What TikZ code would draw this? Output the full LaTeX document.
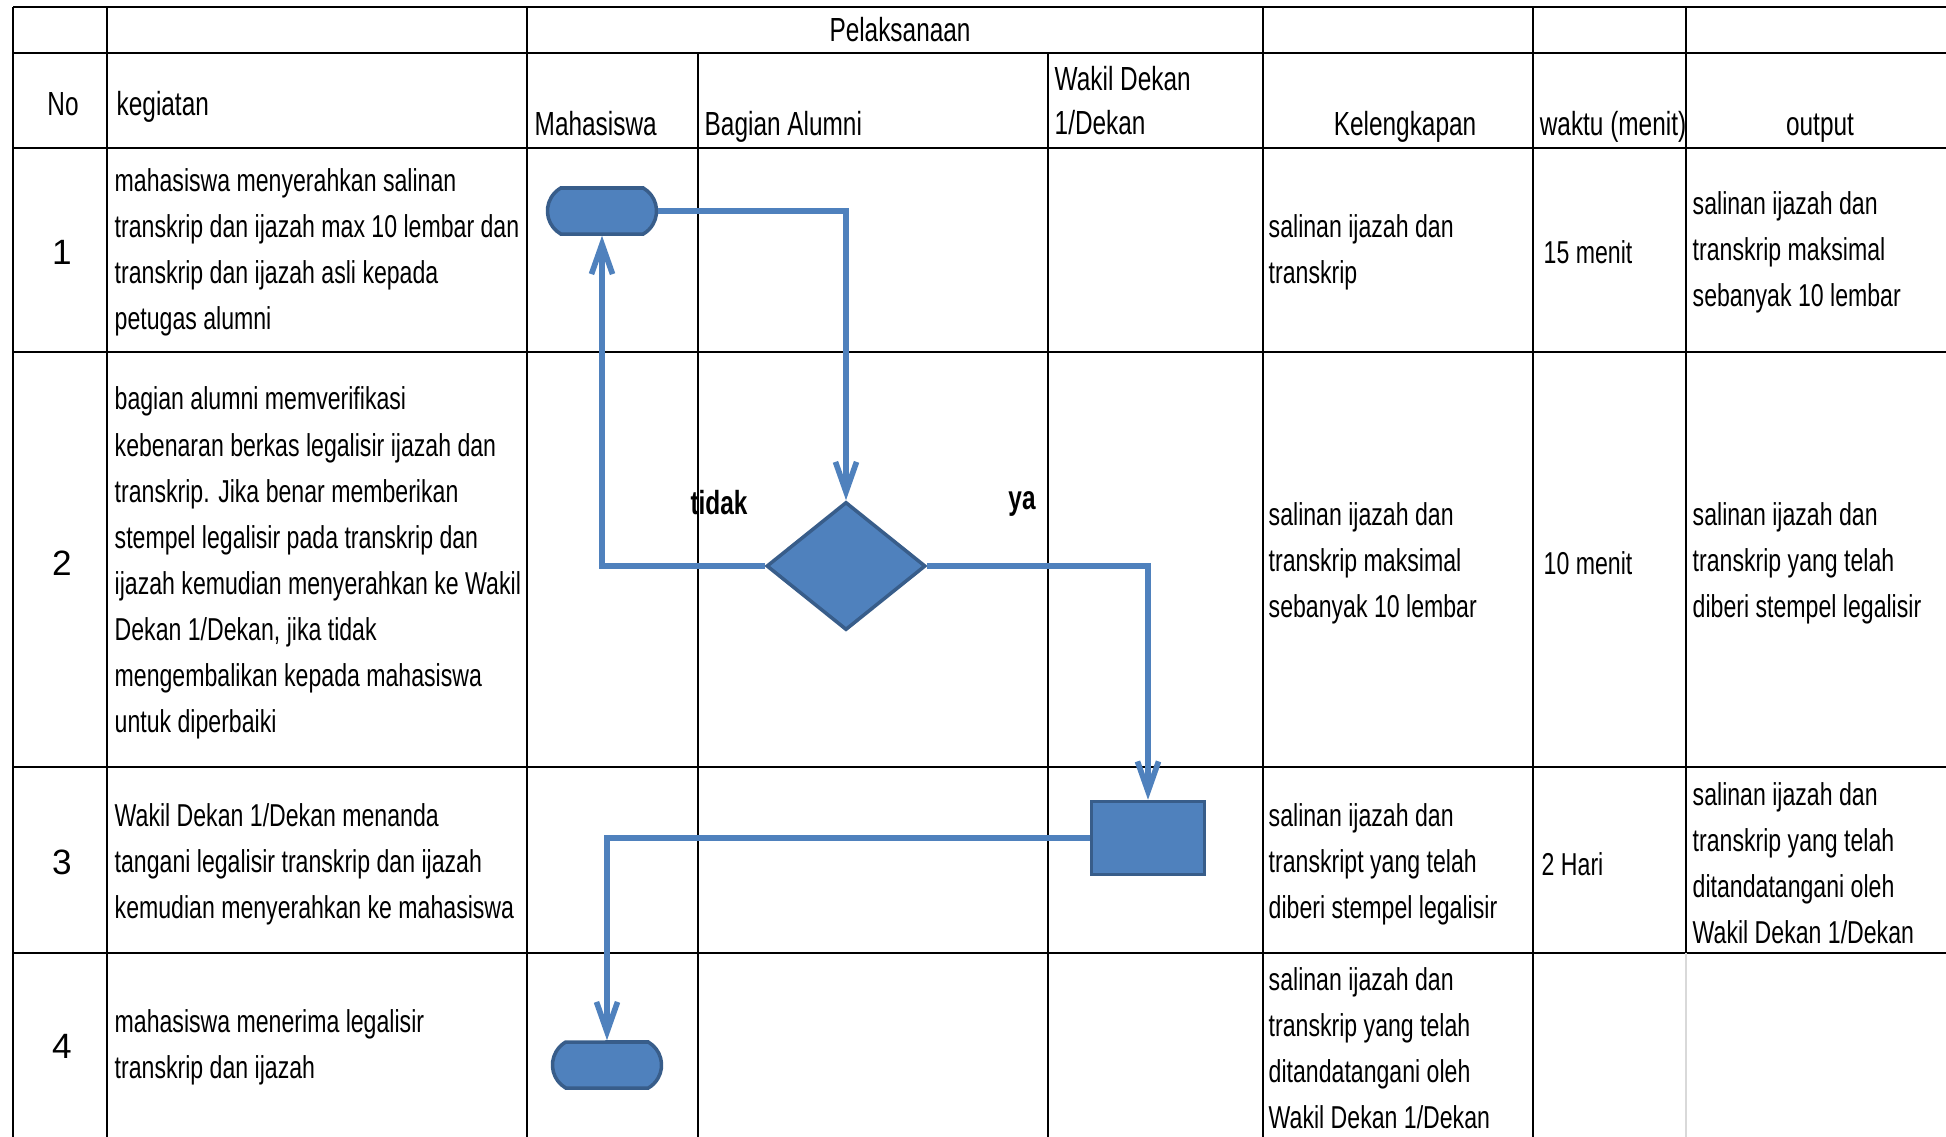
\documentclass[tikz,border=0pt]{standalone}
\usepackage{fontspec}
\setmainfont{Liberation Sans}[FakeStretch = 0.73]
\newfontfamily\numberfont{Liberation Sans}
\usepackage{tikz}
\usetikzlibrary{arrows.meta}
\usetikzlibrary{positioning, shapes.geometric, shapes.misc}
\definecolor{flow blue}{HTML}{4F81BD}
\definecolor{flow edge}{HTML}{385D8A}
\tikzset{
start stop/.style = { rounded rectangle, rounded rectangle arc length = 120, draw = flow edge, fill = flow blue, line width = 1pt, minimum width = 1.09cm, minimum height = 0.46cm, inner sep = 0pt },
decision/.style = { diamond, draw = flow edge, fill = flow blue, line width = 1pt, minimum width = 1.59cm, minimum height = 1.28cm, inner sep = 0pt },
process/.style = { rectangle, draw = flow edge, fill = flow blue, line width = 1pt, minimum width = 1.13cm, minimum height = 0.73cm, inner sep = 0pt },
flow line/.style = { draw = flow blue, line width = 1.6pt, -{Straight Barb[length = 8.5pt, width = 6pt]} },
grid line/.style = { draw = black, line width = 0.7pt },
cell text/.style = { anchor = west, align = left, inner sep = 0pt, font = \fontsize{9pt}{13.1pt}\selectfont },
head text/.style = { inner sep = 0pt, font = \fontsize{9.5pt}{12.5pt}\selectfont },
row number/.style = { inner sep = 0pt, font = \numberfont\fontsize{10pt}{12pt}\selectfont },
branch label/.style = { inner sep = 0pt, font = \bfseries\fontsize{9.5pt}{12pt}\selectfont },
}

\begin{document}
\begin{tikzpicture}[x = 0.01cm, y = -0.01cm]
    \useasboundingbox (0, 0) rectangle (1946, 1136);
    % table
    \path[grid line] (13, 7) -- (1955, 7);
    \path[grid line] (13, 53) -- (1955, 53);
    \path[grid line] (13, 148) -- (1955, 148);
    \path[grid line] (13, 352) -- (1955, 352);
    \path[grid line] (13, 767) -- (1955, 767);
    \path[grid line] (13, 953) -- (1955, 953);
    \path[grid line] (13, 7) -- (13, 1140);
    \path[grid line] (107, 7) -- (107, 1140);
    \path[grid line] (527, 7) -- (527, 1140);
    \path[grid line] (698, 53) -- (698, 1140);
    \path[grid line] (1048, 53) -- (1048, 1140);
    \path[grid line] (1263, 7) -- (1263, 1140);
    \path[grid line] (1533, 7) -- (1533, 1140);
    \path[grid line] (1686, 7) -- (1686, 953);
    \path[draw = black!15, line width = 0.7pt] (1686, 953) -- (1686, 1140);

    \node[head text, anchor = base] (pelaksanaan) at (900, 41) {Pelaksanaan};
    \node[head text, anchor = base] (no head) at (63, 115) {No};
    \node[head text, anchor = base west] (kegiatan head) at (116, 115) {kegiatan};
    \node[head text, anchor = base west] (mahasiswa head) at (534, 135) {Mahasiswa};
    \node[head text, anchor = base west] (alumni head) at (704, 135) {Bagian Alumni};
    \node[head text, anchor = west, align = left] (dekan head) at (1054, 101) {Wakil Dekan\\1/Dekan};
    \node[head text, anchor = base] (kelengkapan head) at (1405, 135) {Kelengkapan};
    \node[head text, anchor = base] (waktu head) at (1613, 135) {waktu (menit)};
    \node[head text, anchor = base] (output head) at (1820, 135) {output};

    \node[row number] (no 1) at (62, 252) {1};
    \node[row number] (no 2) at (62, 563) {2};
    \node[row number] (no 3) at (62, 862) {3};
    \node[row number] (no 4) at (62, 1046) {4};

    \node[cell text] (kegiatan 1) at (114, 252) {mahasiswa menyerahkan salinan\\transkrip dan ijazah max 10 lembar dan\\transkrip dan ijazah asli kepada\\petugas alumni};
    \node[cell text] (kegiatan 2) at (114, 563) {bagian alumni memverifikasi\\kebenaran berkas legalisir ijazah dan\\transkrip. Jika benar memberikan\\stempel legalisir pada transkrip dan\\ijazah kemudian menyerahkan ke Wakil\\Dekan 1/Dekan, jika tidak\\mengembalikan kepada mahasiswa\\untuk diperbaiki};
    \node[cell text] (kegiatan 3) at (114, 864) {Wakil Dekan 1/Dekan menanda\\tangani legalisir transkrip dan ijazah\\kemudian menyerahkan ke mahasiswa};
    \node[cell text] (kegiatan 4) at (114, 1047) {mahasiswa menerima legalisir\\transkrip dan ijazah};

    \node[cell text] (kelengkapan 1) at (1268, 252) {salinan ijazah dan\\transkrip};
    \node[cell text] (kelengkapan 2) at (1268, 563) {salinan ijazah dan\\transkrip maksimal\\sebanyak 10 lembar};
    \node[cell text] (kelengkapan 3) at (1268, 864) {salinan ijazah dan\\transkript yang telah\\diberi stempel legalisir};
    \node[cell text] (kelengkapan 4) at (1268, 1048) {salinan ijazah dan\\transkrip yang telah\\ditandatangani oleh\\Wakil Dekan 1/Dekan};

    \node[cell text] (waktu 1) at (1543, 252) {15 menit};
    \node[cell text] (waktu 2) at (1543, 563) {10 menit};
    \node[cell text] (waktu 3) at (1541, 864) {2 Hari};

    \node[cell text] (output 1) at (1692, 252) {salinan ijazah dan\\transkrip maksimal\\sebanyak 10 lembar};
    \node[cell text] (output 2) at (1692, 563) {salinan ijazah dan\\transkrip yang telah\\diberi stempel legalisir};
    \node[cell text] (output 3) at (1692, 863) {salinan ijazah dan\\transkrip yang telah\\ditandatangani oleh\\Wakil Dekan 1/Dekan};

    % flow
    \node[start stop] (mhs start) at (602, 211) {};
    \node[decision] (cek alumni) at (846, 566) {};
    \node[process] (ttd dekan) at (1148, 838) {};
    \node[start stop] (mhs end) at (607, 1065) {};
    \node[branch label] (tidak) at (719, 503) {tidak};
    \node[branch label] (ya) at (1022, 504) {ya};

    \path[flow line] (mhs start.east) -| (cek alumni.north);
    \path[flow line] (cek alumni.west) -| (mhs start.south);
    \path[flow line] (cek alumni.east) -| (ttd dekan.north);
    \path[flow line] (ttd dekan.west) -| (mhs end.north);
\end{tikzpicture}
\end{document}
